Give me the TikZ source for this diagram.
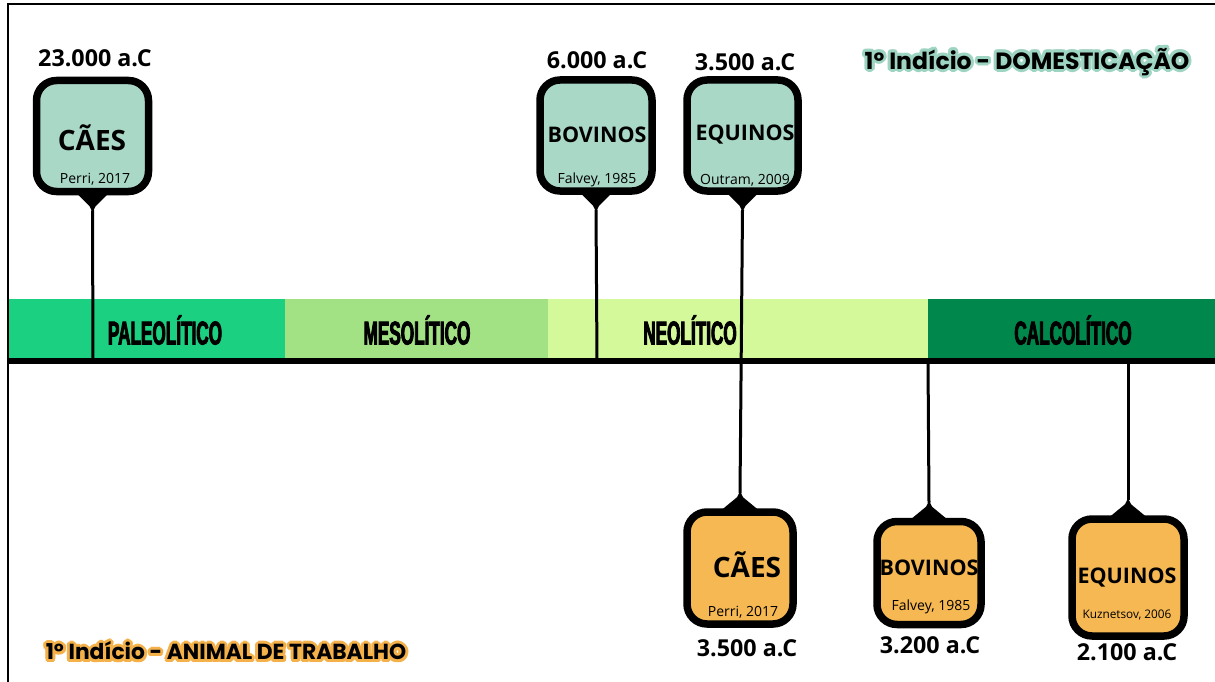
\documentclass[tikz,border=0pt]{standalone}
\usepackage{fontspec}
\setmainfont{Open Sans}
\newfontfamily\titlefont{Poppins}
\newfontfamily\bandfont[FakeStretch=0.52,FakeBold=2.5]{Liberation Sans}
\definecolor{tealbox}{HTML}{A9D8C7}
\definecolor{orgbox}{HTML}{F6B853}
\definecolor{bandA}{HTML}{1CD082}
\definecolor{bandB}{HTML}{A2E285}
\definecolor{bandC}{HTML}{D3F99A}
\definecolor{bandD}{HTML}{00874B}
\definecolor{glowteal}{HTML}{9DD4C2}
\definecolor{gloworg}{HTML}{F4B14A}
\tikzset{
  evbox/.style={draw=black, line width=7.5pt, rounded corners=20pt, inner sep=0pt},
  animal/.style={font=\fontsize{28}{28}\selectfont\bfseries, inner sep=0pt},
  animalsm/.style={font=\fontsize{21.5}{22}\selectfont\bfseries, inner sep=0pt},
  cite/.style={font=\fontsize{14}{14}\selectfont, inner sep=0pt},
  citesm/.style={font=\fontsize{11.8}{12}\selectfont, inner sep=0pt},
  datelbl/.style={font=\fontsize{23.3}{23}\selectfont\bfseries, inner sep=0pt},
  bandlbl/.style={font=\fontsize{33}{33}\selectfont\bandfont\bfseries, inner sep=0pt},
  ttlT/.style={font=\fontsize{23.5}{24}\selectfont\titlefont\bfseries, inner sep=0pt},
  ttlB/.style={font=\fontsize{21.8}{22}\selectfont\titlefont\bfseries, inner sep=0pt},
  stem/.style={line width=3pt},
}
\begin{document}
\begin{tikzpicture}[x=1pt,y=-1pt]
\useasboundingbox (0,0) rectangle (1215,682);
\fill[white] (0,0) rectangle (1215,682);
% frame
\draw[line width=1.5pt] (8,682) -- (8,4) -- (1215,4);
% bands
\fill[bandA] (9,299) rectangle (285,359);
\fill[bandB] (285,299) rectangle (548,359);
\fill[bandC] (548,299) rectangle (928,359);
\fill[bandD] (928,299) rectangle (1215,359);
\node[bandlbl] (pal) at (165,330) {PALEOLÍTICO};
\node[bandlbl] (mes) at (417,330) {MESOLÍTICO};
\node[bandlbl] (neo) at (690,330) {NEOLÍTICO};
\node[bandlbl] (cal) at (1073,330) {CALCOLÍTICO};
% axis coordinates
\coordinate (ax1) at (93,361);
\coordinate (ax2) at (597,361);
\coordinate (ax4) at (928,361);
\coordinate (ax5) at (1128,361);
% top boxes
\node[evbox, fill=tealbox, minimum width=112pt, minimum height=111pt] (t1) at (92.5,136) {};
\node[evbox, fill=tealbox, minimum width=112pt, minimum height=111pt] (t2) at (596,135.5) {};
\node[evbox, fill=tealbox, minimum width=111pt, minimum height=111pt] (t3) at (742.5,135.5) {};
% bottom boxes
\node[evbox, fill=orgbox, minimum width=106pt, minimum height=112pt] (b1) at (740,568) {};
\node[evbox, fill=orgbox, minimum width=104pt, minimum height=103pt] (b2) at (929,573) {};
\node[evbox, fill=orgbox, minimum width=112pt, minimum height=117pt] (b3) at (1128,577.5) {};
% pointers top
\foreach \n in {t1,t2,t3}{
  \fill ([xshift=-17pt,yshift=3pt]\n.south) -- ([xshift=17pt,yshift=3pt]\n.south) -- ([xshift=3pt,yshift=-11pt]\n.south) -- ([yshift=-17pt]\n.south) -- ([xshift=-3pt,yshift=-11pt]\n.south) -- cycle;
}
\foreach \n in {b1,b2,b3}{
  \fill ([xshift=-20pt,yshift=-3pt]\n.north) -- ([xshift=20pt,yshift=-3pt]\n.north) -- ([xshift=3pt,yshift=11pt]\n.north) -- ([yshift=17pt]\n.north) -- ([xshift=-3pt,yshift=11pt]\n.north) -- cycle;
}
% stems
\draw[stem] ([yshift=-15pt]t1.south) -- (ax1);
\draw[stem] ([yshift=-15pt]t2.south) -- (ax2);
\draw[stem] ([yshift=-15pt]t3.south) -- ([yshift=15pt]b1.north);
\draw[stem] (ax4) -- ([yshift=15pt]b2.north);
\draw[stem] (ax5) -- ([yshift=15pt]b3.north);
% axis line
\draw[line width=6pt] (9,361) -- (1215,361);
% box texts top
\node[animal] (t1a) at (92,138) {CÃES};
\node[cite] (t1c) at (95,179) {Perri, 2017};
\node[animalsm] (t2a) at (597,135) {BOVINOS};
\node[cite] (t2c) at (597,180) {Falvey, 1985};
\node[animalsm] (t3a) at (745,135) {EQUINOS};
\node[cite] (t3c) at (745,180) {Outram, 2009};
% box texts bottom
\node[animal] (b1a) at (747,565) {CÃES};
\node[cite] (b1c) at (743,612) {Perri, 2017};
\node[animalsm] (b2a) at (929,568) {BOVINOS};
\node[cite] (b2c) at (931,607) {Falvey, 1985};
\node[animalsm] (b3a) at (1127,578) {EQUINOS};
\node[citesm] (b3c) at (1127,615) {Kuznetsov, 2006};
% dates
\node[datelbl] (d1) at (95,58) {23.000 a.C};
\node[datelbl] (d2) at (597,60) {6.000 a.C};
\node[datelbl] (d3) at (745,62) {3.500 a.C};
\node[datelbl] (d4) at (747,648) {3.500 a.C};
\node[datelbl] (d5) at (930,645) {3.200 a.C};
\node[datelbl] (d6) at (1127,652) {2.100 a.C};
% titles with glow (halo made of shifted copies)
\foreach \a in {0,30,...,330}{
  \node[ttlT, text=glowteal] (gT\a) at ([shift={(\a:3)}]1027,62) {1º Indício - DOMESTICAÇÃO};
  \node[ttlB, text=gloworg] (gB\a) at ([shift={(\a:3)}]226,651) {1º Indício - ANIMAL DE TRABALHO};
}
\node[ttlT] (titleT) at (1027,62) {1º Indício - DOMESTICAÇÃO};
\node[ttlB] (titleB) at (226,651) {1º Indício - ANIMAL DE TRABALHO};
\end{tikzpicture}
\end{document}
